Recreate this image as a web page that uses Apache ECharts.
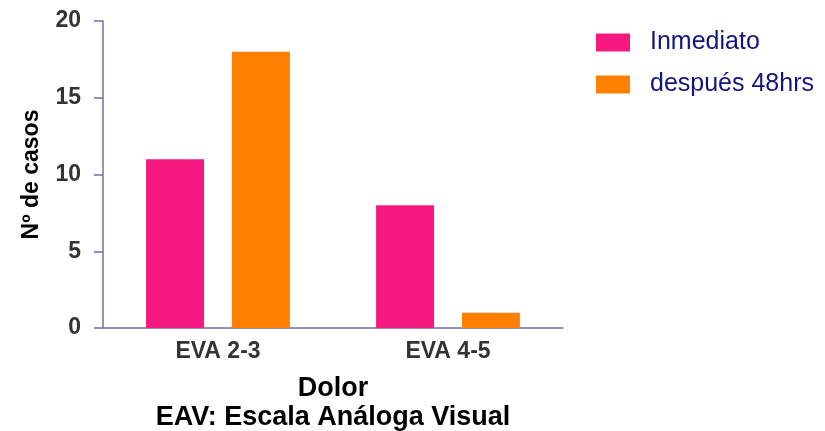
<!DOCTYPE html>
<html>
<head>
<meta charset="utf-8">
<script src="https://cdn.jsdelivr.net/npm/echarts@6/dist/echarts.min.js"></script>
<style>
  html, body { margin: 0; padding: 0; background: #fff; }
  #chart { width: 825px; height: 431px; }
</style>
</head>
<body>
<div id="chart"></div>
<script>
// Pain scale groups and case counts
var categories = ['EVA 2-3', 'EVA 4-5'];
var seriesNames = ['Inmediato', 'después 48hrs'];
var inmediato = [11, 8];
var despues48 = [18, 1];
var yTicks = [0, 5, 10, 15, 20];

var axisColor = '#6E70A8';
var font = 'Arial, "Liberation Sans", Helvetica, sans-serif';

var chart = echarts.init(document.getElementById('chart'), null, { renderer: 'canvas' });
chart.setOption({
  animation: false,
  backgroundColor: '#ffffff',
  grid: { left: 103, right: 262, top: 21, bottom: 103, containLabel: false, outerBoundsMode: 'none' },
  legend: {
    left: 591,
    top: 25,
    orient: 'vertical',
    itemWidth: 34,
    itemHeight: 18,
    itemGap: 17,
    icon: 'rect',
    data: seriesNames,
    textStyle: {
      color: '#141480',
      fontFamily: font,
      fontSize: 25,
      padding: [0, 0, 0, 15]
    }
  },
  xAxis: {
    type: 'category',
    data: categories,
    axisLine: { lineStyle: { color: axisColor, width: 1.5 } },
    axisTick: { alignWithLabel: true, length: 8, lineStyle: { color: axisColor, width: 1.5 } },
    axisLabel: {
      color: '#333333',
      fontFamily: font,
      fontWeight: 'bold',
      fontSize: 23,
      margin: 12
    },
    name: 'Dolor\nEAV: Escala Análoga Visual',
    nameLocation: 'middle',
    nameGap: 46,
    nameTextStyle: {
      color: '#000000',
      fontFamily: font,
      fontWeight: 'bold',
      fontSize: 27,
      lineHeight: 29
    }
  },
  yAxis: {
    type: 'value',
    min: yTicks[0],
    max: yTicks[yTicks.length - 1],
    interval: yTicks[1] - yTicks[0],
    splitLine: { show: false },
    axisLine: { show: true, lineStyle: { color: axisColor, width: 1.5 } },
    axisTick: { show: true, length: 9, lineStyle: { color: axisColor, width: 1.5 } },
    axisLabel: {
      color: '#333333',
      fontFamily: font,
      fontWeight: 'bold',
      fontSize: 23,
      margin: 22
    },
    name: 'Nº de casos',
    nameLocation: 'middle',
    nameGap: 60,
    nameTextStyle: {
      color: '#000000',
      fontFamily: font,
      fontWeight: 'bold',
      fontSize: 23
    }
  },
  series: [
    {
      name: seriesNames[0],
      type: 'bar',
      data: inmediato,
      barWidth: 58,
      barGap: '48%',
      itemStyle: { color: '#F5197F' }
    },
    {
      name: seriesNames[1],
      type: 'bar',
      data: despues48,
      barWidth: 58,
      barGap: '48%',
      itemStyle: { color: '#FF8000' }
    }
  ]
});
</script>
</body>
</html>
